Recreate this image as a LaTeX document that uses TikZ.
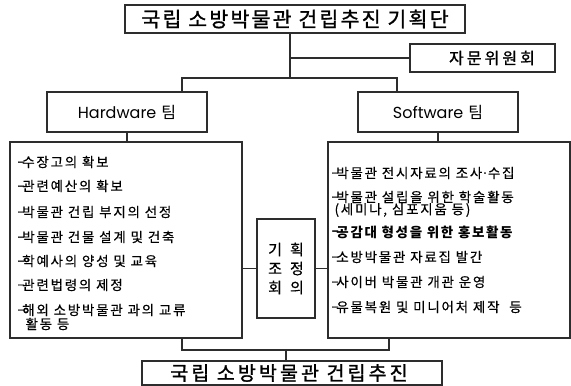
\documentclass[tikz,border=0pt]{standalone}
\usepackage{fontspec}
\setmainfont{Noto Sans CJK KR}
\newfontfamily\krlist[LetterSpace=13,FakeBold=0.4]{Noto Sans CJK KR}
\newfontfamily\krlistb[LetterSpace=12]{Noto Sans CJK KR}
\newfontfamily\krtitle[LetterSpace=11,FakeBold=1.3]{Noto Sans CJK KR}
\newfontfamily\krbot[LetterSpace=16,FakeBold=1.3]{Noto Sans CJK KR}
\newfontfamily\krcomm[LetterSpace=19,FakeBold=1.1]{Noto Sans CJK KR}
\newfontfamily\krplain{Noto Sans CJK KR}
\newfontfamily\krmid[FakeBold=0.5]{Noto Sans CJK KR}
\newfontfamily\latinfont{Poppins}
\newcommand\dsh{\raisebox{1.2pt}{–}\kern-2.5pt}
\newcommand\mdot{\kern-1pt{\krplain ·}\kern-1pt}
\definecolor{linec}{RGB}{45,45,45}
\begin{document}
\begin{tikzpicture}[x=1pt,y=-1pt,line width=1.1pt,
  box/.style={draw=linec,inner sep=0pt,text=black},
  lst/.style={anchor=west,inner sep=0pt,text=black,font=\krlist\fontsize{13.5}{15}\selectfont},
  conn/.style={draw=linec,line width=1.1pt}]
\useasboundingbox (0,0) rectangle (571,386);
% boxes
\node[box,minimum width=340pt,minimum height=28pt,font=\krtitle\fontsize{20.5}{22}\selectfont] (top) at (295,19) {국립 소방박물관 건립추진 기획단};
\node[box,minimum width=145pt,minimum height=28pt,font=\krcomm\fontsize{16}{17}\selectfont] (comm) at (482.5,58) {\hspace*{19pt}자문위원회};
\node[box,minimum width=160pt,minimum height=40pt] (hw) at (127,112) {{\latinfont\fontsize{16}{17}\selectfont Hardware}\hspace{5pt}{\krplain\fontsize{16}{17}\selectfont 팀}};
\node[box,minimum width=160pt,minimum height=40pt] (sw) at (438,112) {{\latinfont\fontsize{16}{17}\selectfont Software}\hspace{5pt}{\krplain\fontsize{16}{17}\selectfont 팀}};
\node[box,minimum width=232pt,minimum height=196pt] (hwlist) at (126,240) {};
\node[box,minimum width=242pt,minimum height=196pt] (swlist) at (449,240) {};
\node[box,minimum width=58pt,minimum height=99pt,align=center,font=\krmid\fontsize{15}{19}\selectfont] (mid) at (286,268.5) {기\hspace{8pt}획\\조\hspace{8pt}정\\회\hspace{8pt}의};
\node[box,minimum width=300pt,minimum height=24pt,font=\krbot\fontsize{19.5}{21}\selectfont] (bot) at (292,373) {국립 소방박물관 건립추진\hspace*{6pt}};
% list texts
\node[lst] (l1) at (17,162) {\dsh 수장고의 확보};
\node[lst] (l2) at (17,186) {\dsh 관련예산의 확보};
\node[lst] (l3) at (17,212) {\dsh 박물관 건립 부지의 선정};
\node[lst] (l4) at (17,237) {\dsh 박물관 건물 설계 및 건축};
\node[lst] (l5) at (17,261) {\dsh 학예사의 양성 및 교육};
\node[lst] (l6) at (17,285) {\dsh 관련법령의 제정};
\node[lst] (l7) at (17,310) {\dsh 해외 소방박물관 과의 교류};
\node[lst] (l8) at (25,324) {활동 등};
\node[lst] (r1) at (331,173) {\dsh 박물관 전시자료의 조사\mdot 수집};
\node[lst] (r2) at (331,197) {\dsh 박물관 설립을 위한 학술활동};
\node[lst] (r3) at (334,210) {(세미나, 심포지움 등)};
\node[lst,font=\krlistb\bfseries\fontsize{13.5}{15}\selectfont] (r4) at (331,232) {\dsh 공감대 형성을 위한 홍보활동};
\node[lst] (r5) at (331,257) {\dsh 소방박물관 자료집 발간};
\node[lst] (r6) at (331,282) {\dsh 사이버 박물관 개관 운영};
\node[lst] (r7) at (331,307) {\dsh 유물복원 및 미니어처 제작\hspace{5pt} 등};
% junctions
\coordinate (j1) at (290,58);
\coordinate (j2) at (290,78);
\coordinate (hwd) at (182,78);
\coordinate (swd) at (397,78);
\coordinate (b1) at (182,350);
\coordinate (b2) at (389,350);
\coordinate (b3) at (286,350);
% connectors
\draw[conn] (top.south -| j1) -- (j2);
\draw[conn] (j1) -- (comm.west);
\draw[conn] (hw.north -| hwd) -- (hwd) -- (swd) -- (sw.north -| swd);
\draw[conn] (hw.south) -- (hw.south |- hwlist.north);
\draw[conn] (sw.south) -- (sw.south |- swlist.north);
\draw[conn] (hwlist.east |- mid.west) -- (mid.west);
\draw[conn] (mid.east) -- (swlist.west |- mid.east);
\draw[conn] (hwlist.south -| b1) -- (b1) -- (b2) -- (swlist.south -| b2);
\draw[conn] (b3) -- (bot.north -| b3);
\end{tikzpicture}
\end{document}
